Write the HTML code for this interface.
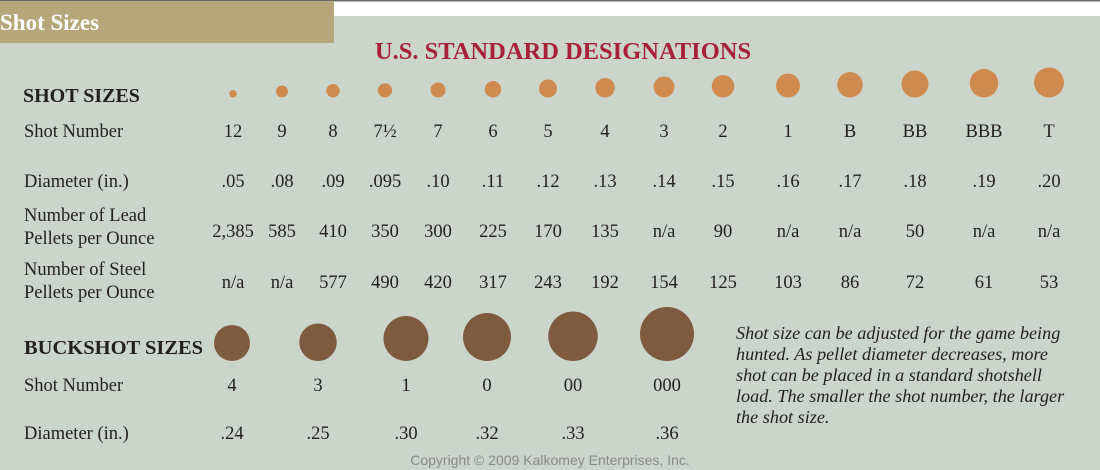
<!DOCTYPE html>
<html><head><meta charset="utf-8">
<style>
html,body{margin:0;padding:0;}
body{width:1100px;height:470px;overflow:hidden;background:#cbd5cc;}
svg{display:block;}
text{font-family:"Liberation Serif",serif;fill:#231f1c;}
</style></head>
<body>
<svg id="chart" width="1100" height="470" xmlns="http://www.w3.org/2000/svg">
  <rect x="0" y="0" width="1100" height="470" fill="#cbd5cc"/>
  <rect x="0" y="0" width="1100" height="16" fill="#ffffff"/>
  <rect x="0" y="0" width="1100" height="1.5" fill="#6b6b63"/>
  <rect x="0" y="1" width="334" height="42" fill="#b6a679"/>
  <text x="0" y="30" font-size="23" font-weight="bold" style="fill:#ffffff">Shot Sizes</text>
  <text x="563" y="59" font-size="24.5" font-weight="bold" text-anchor="middle" style="fill:#a82039">U.S. STANDARD DESIGNATIONS</text>

  <text x="23" y="102" font-size="20" font-weight="bold">SHOT SIZES</text>
  <text x="24" y="137" font-size="18.5">Shot Number</text>
  <text x="24" y="187" font-size="18.5">Diameter (in.)</text>
  <text x="24" y="221" font-size="18.5">Number of Lead</text>
  <text x="24" y="244" font-size="18.5">Pellets per Ounce</text>
  <text x="24" y="275" font-size="18.5">Number of Steel</text>
  <text x="24" y="298" font-size="18.5">Pellets per Ounce</text>

  <text x="24" y="354" font-size="20.5" font-weight="bold">BUCKSHOT SIZES</text>
  <text x="24" y="391" font-size="18.5">Shot Number</text>
  <text x="24" y="439" font-size="18.5">Diameter (in.)</text>

  <g id="shots"></g>
  <g id="bucks"></g>

  <g>
    <text x="736" y="339" font-size="18.2" font-style="italic">Shot size can be adjusted for the game being</text>
    <text x="736" y="360" font-size="18.2" font-style="italic">hunted. As pellet diameter decreases, more</text>
    <text x="736" y="381" font-size="18.2" font-style="italic">shot can be placed in a standard shotshell</text>
    <text x="736" y="402" font-size="18.2" font-style="italic">load. The smaller the shot number, the larger</text>
    <text x="736" y="423" font-size="18.2" font-style="italic">the shot size.</text>
  </g>
  <text x="550" y="465" font-size="14" text-anchor="middle" style="fill:#8a8a86;font-family:'Liberation Sans',sans-serif">Copyright © 2009 Kalkomey Enterprises, Inc.</text>
</svg>
<script>
const shotNames = ["12","9","8","7½","7","6","5","4","3","2","1","B","BB","BBB","T"];
const shotDiam = [0.05,0.08,0.09,0.095,0.10,0.11,0.12,0.13,0.14,0.15,0.16,0.17,0.18,0.19,0.20];
const shotDiamLabels = [".05",".08",".09",".095",".10",".11",".12",".13",".14",".15",".16",".17",".18",".19",".20"];
const leadCounts = ["2,385","585","410","350","300","225","170","135","n/a","90","n/a","n/a","50","n/a","n/a"];
const steelCounts = ["n/a","n/a","577","490","420","317","243","192","154","125","103","86","72","61","53"];
const buckNames = ["4","3","1","0","00","000"];
const buckDiam = [0.24,0.25,0.30,0.32,0.33,0.36];
const buckDiamLabels = [".24",".25",".30",".32",".33",".36"];

const shotX = [233,282,333,385,438,493,548,605,664,723,788,850,915,984,1049];
const buckX = [232,318,406,487,573,667];
const rScale = d => d * 75;
const NS = "http://www.w3.org/2000/svg";

function mkText(parent, x, y, s) {
  const t = document.createElementNS(NS, "text");
  t.setAttribute("x", x); t.setAttribute("y", y);
  t.setAttribute("font-size", "18.5");
  t.setAttribute("text-anchor", "middle");
  t.textContent = s;
  parent.appendChild(t);
  return t;
}
const gs = document.getElementById("shots");
shotNames.forEach((n, i) => {
  const r = rScale(shotDiam[i]);
  const c = document.createElementNS(NS, "circle");
  c.setAttribute("cx", shotX[i]); c.setAttribute("cy", 97.5 - r); c.setAttribute("r", r);
  c.setAttribute("fill", "#cf8b4f");
  
  
  gs.appendChild(c);
  let t = mkText(gs, shotX[i], 137, n);
  
  
  t = mkText(gs, shotX[i], 187, shotDiamLabels[i]);
  
  
  t = mkText(gs, shotX[i], 237, leadCounts[i]);
  
  
  t = mkText(gs, shotX[i], 288, steelCounts[i]);
  
  
});
const gb = document.getElementById("bucks");
buckNames.forEach((n, i) => {
  const r = rScale(buckDiam[i]);
  const c = document.createElementNS(NS, "circle");
  c.setAttribute("cx", buckX[i]); c.setAttribute("cy", 361 - r); c.setAttribute("r", r);
  c.setAttribute("fill", "#7e5b3f");
  
  
  gb.appendChild(c);
  let t = mkText(gb, buckX[i], 391, n);
  
  
  t = mkText(gb, buckX[i], 439, buckDiamLabels[i]);
  
  
});
</script>
</body></html>
